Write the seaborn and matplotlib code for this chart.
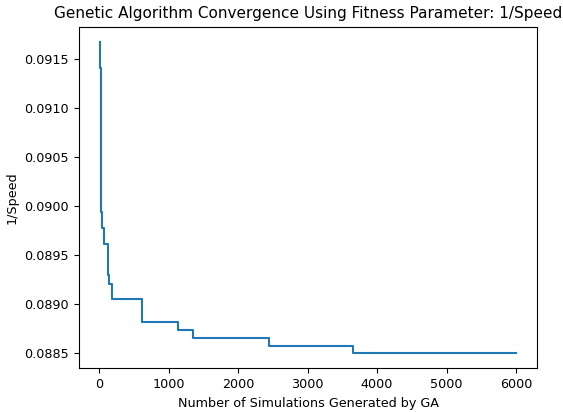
import matplotlib
matplotlib.use("Agg")
import matplotlib.pyplot as plt
import seaborn as sns
import pandas as pd

# Step breakpoints (x = simulation count where a new best value starts)
simulations = [4, 14, 22, 29, 35, 63, 121, 135, 187, 610, 1129, 1353, 2448, 3649, 6006]
inv_speed = [0.09167, 0.09141, 0.09026, 0.08994, 0.08977, 0.08961, 0.08929, 0.08920,
             0.08905, 0.08881, 0.08873, 0.08865, 0.08857, 0.08850, 0.08850]

title = "Genetic Algorithm Convergence Using Fitness Parameter: 1/Speed"
xlabel = "Number of Simulations Generated by GA"
ylabel = "1/Speed"
xticks = [0, 1000, 2000, 3000, 4000, 5000, 6000]
yticks = [0.0885, 0.0890, 0.0895, 0.0900, 0.0905, 0.0910, 0.0915]
ytick_labels = ["0.0885", "0.0890", "0.0895", "0.0900", "0.0905", "0.0910", "0.0915"]

df = pd.DataFrame({"sims": simulations, "val": inv_speed})

plt.rcParams["font.family"] = ["DejaVu Sans"]
fig = plt.figure(figsize=(5.63, 4.12), dpi=100)
ax = fig.add_axes([78.7 / 563, 1 - 368.3 / 412, (537.3 - 78.7) / 563, (368.3 - 26.5) / 412])

sns.lineplot(data=df, x="sims", y="val", ax=ax, drawstyle="steps-post",
             color="#1f77b4", linewidth=1.5)

ax.set_title(title, fontsize=11.0)
ax.set_xlabel(xlabel, fontsize=9.15)
ax.set_ylabel(ylabel, fontsize=9.15)
ax.tick_params(labelsize=9.2)
ax.set_xticks(xticks)
ax.set_yticks(yticks)
ax.set_yticklabels(ytick_labels)

fig.savefig("out.png", dpi=100)
